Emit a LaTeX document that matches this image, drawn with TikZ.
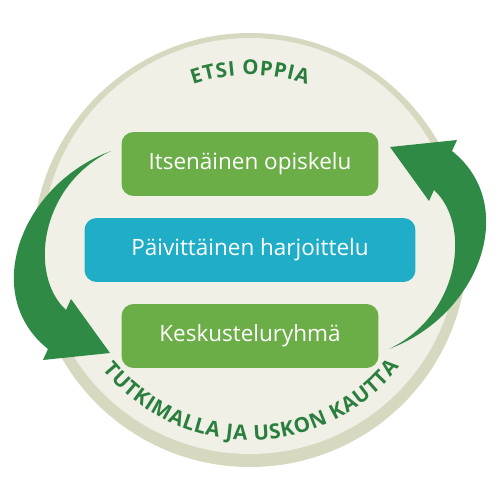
\documentclass[tikz,border=0pt]{standalone}
\usepackage{fontspec}
\setmainfont{Open Sans}
\usetikzlibrary{decorations.text}
\definecolor{rimbeige}{HTML}{D6D8BF}
\definecolor{discbeige}{HTML}{F1F0E6}
\definecolor{boxgreen}{HTML}{6BAD46}
\definecolor{boxblue}{HTML}{20ADC7}
\definecolor{arrowgreen}{HTML}{2F8A46}
\definecolor{textgreen}{HTML}{2A7F3F}
\tikzstyle{stage}=[rounded corners=0.24cm, text=white, inner sep=0pt, minimum height=1.28cm, font=\fontsize{12.8}{15}\selectfont]
\tikzstyle{green stage}=[stage, fill=boxgreen, minimum width=5.14cm]
\tikzstyle{blue stage}=[stage, fill=boxblue, minimum width=6.62cm]
\tikzstyle{cycle arrow}=[fill=arrowgreen]
\tikzstyle{ring text}=[decorate, decoration={text along path, text align=fit to path, text color=textgreen}]

\begin{document}
\begin{tikzpicture}[x=0.02cm, y=0.02cm]
				\useasboundingbox (-250,-250) rectangle (250,250);
				
				%The disc
				\fill[rimbeige] (0,0) circle (217);
				\fill[discbeige] (0,4) circle (208);
				
				%The texts round the disc
				\path[ring text, decoration={text={|\fontsize{11.6}{14}\bfseries|ETSI OPPIA}}]
					(109:175) arc[start angle=109, end angle=71, radius=175];
				\path[ring text, decoration={text={|\fontsize{11.8}{14}\bfseries|TUTKIMALLA JA USKON KAUTTA}}]
					(219:190) arc[start angle=219, end angle=322, radius=190];
				
				%The arrows
				\foreach \turn in {0,180}
					\fill[cycle arrow, rotate=\turn] (-139,99) .. controls (-230,65) and (-270,-45) .. (-202,-99)
						-- (-207,-110) -- (-140,-103) -- (-179,-49) -- (-184,-60)
						.. controls (-222,-25) and (-210,65) .. (-139,99) -- cycle;
				
				%The stages
				\node[green stage] (study) at (0,86) {Itsenäinen opiskelu};
				\node[blue stage] (practice) at (0,0) {Päivittäinen harjoittelu};
				\node[green stage] (group) at (0,-86) {Keskusteluryhmä};
			\end{tikzpicture}
\end{document}
